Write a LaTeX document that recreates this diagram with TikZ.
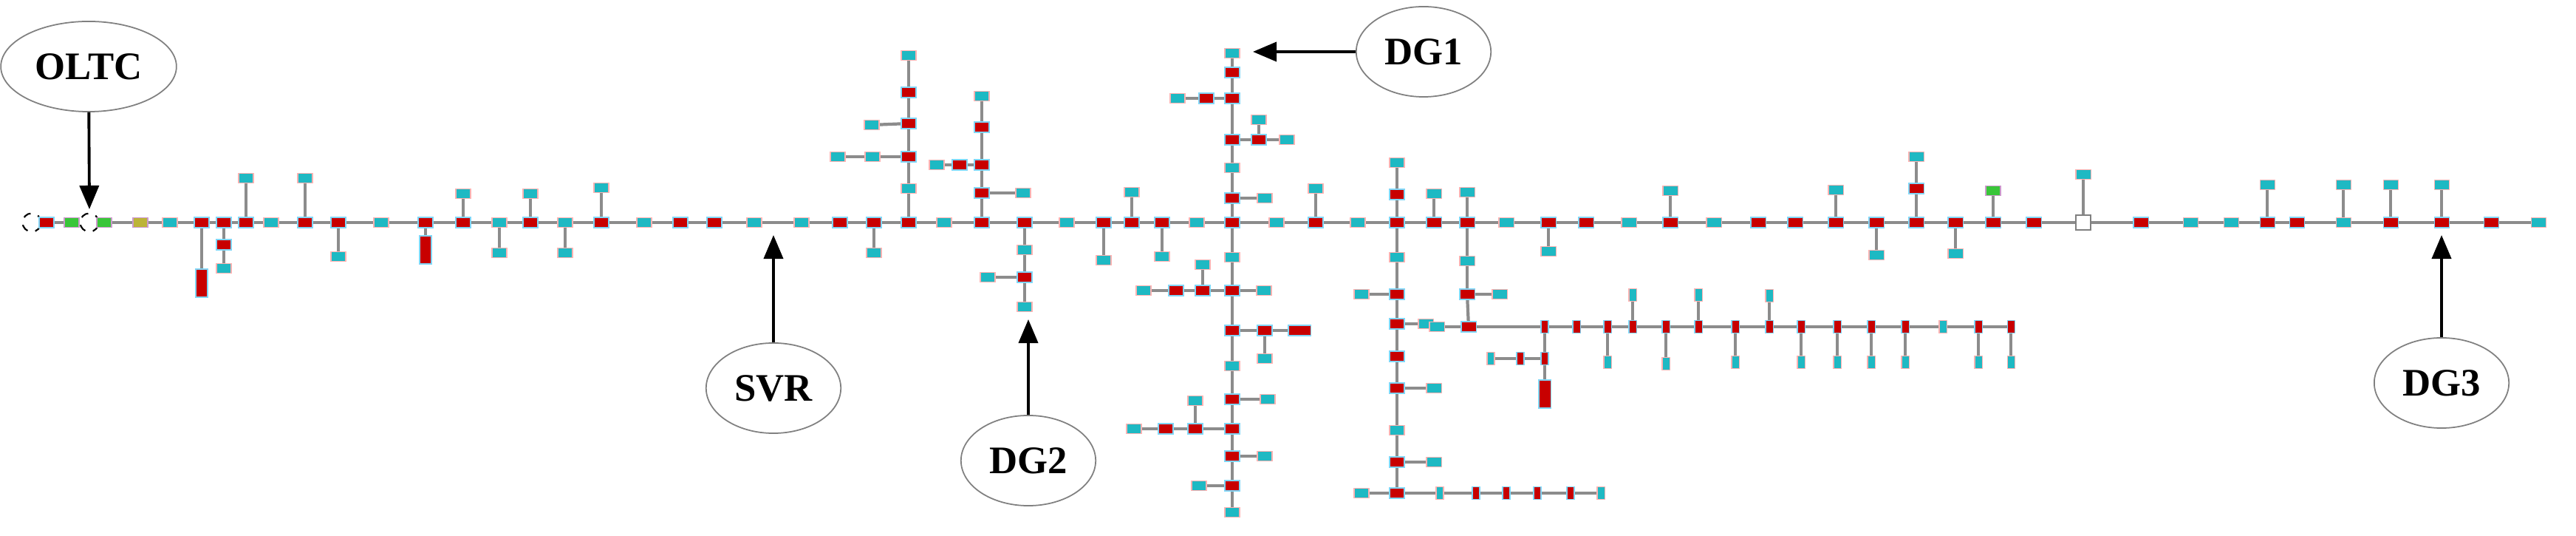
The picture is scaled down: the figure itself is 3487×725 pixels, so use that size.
\documentclass[tikz,border=0pt]{standalone}
\usepackage{fontspec}
\setmainfont{Liberation Serif}
\usetikzlibrary{arrows.meta,shapes.geometric}
\pgfdeclarelayer{bg}
\pgfsetlayers{bg,main}
\definecolor{busred}{RGB}{200,0,0}
\definecolor{loadcyan}{RGB}{30,185,195}
\definecolor{feedgray}{RGB}{140,140,140}
\tikzset{
  bus/.style={draw=cyan!50, line width=0.3pt, fill=busred, minimum width=0.2cm, minimum height=0.14cm, inner sep=0pt},
  busv/.style={bus, minimum width=0.1cm, minimum height=0.17cm},
  bust/.style={bus, minimum width=0.16cm, minimum height=0.38cm},
  busw/.style={bus, minimum width=0.3cm},
  load/.style={draw=red!30, line width=0.3pt, fill=loadcyan, minimum width=0.2cm, minimum height=0.13cm, inner sep=0pt},
  loadv/.style={load, minimum width=0.1cm, minimum height=0.17cm},
  grn/.style={draw=violet!40, fill=green!55!gray, minimum width=0.2cm, minimum height=0.13cm, inner sep=0pt},
  ylw/.style={draw=violet!40, fill=yellow!70!black, minimum width=0.2cm, minimum height=0.13cm, inner sep=0pt},
  wht/.style={draw=gray, fill=white, minimum size=0.2cm, inner sep=0pt},
  ring/.style={circle, draw=black, dashed, line width=0.6pt, minimum size=0.25cm, inner sep=0pt},
  ln/.style={draw=feedgray, line width=1.2pt},
  tag/.style={ellipse, draw=gray, line width=0.5pt, minimum width=1.75cm, minimum height=1.22cm, font=\fontsize{15}{17}\selectfont\bfseries},
  pointer/.style={-{Triangle[length=0.32cm,width=0.26cm]}, line width=1.1pt}
}
% branch node: parent, name, x, y, style
\newcommand\bn[5]{\node[#5] (#2) at (#3,#4) {};
  \begin{pgfonlayer}{bg}\draw[ln] (#1) -- (#2);\end{pgfonlayer}}
\begin{document}
\begin{tikzpicture}[x=0.01cm, y=-0.01cm]
  \useasboundingbox (0,0) rectangle (3487,725);

  % main feeder
  \node[ring] (m43) at (43,301) {};
  \foreach \x/\s [remember=\x as \lx (initially 43)] in {63/bus, 97/grn, 121/ring, 141/grn, 190/ylw, 230/load, 273/bus, 303/bus, 333/bus, 367/load, 413/bus, 458/bus, 516/load, 576/bus, 627/bus, 676/load, 718/bus, 765/load, 814/bus, 872/load, 921/bus, 967/bus, 1021/load, 1085/load, 1137/bus, 1183/bus, 1230/bus, 1278/load, 1329/bus, 1387/bus, 1444/load, 1494/bus, 1532/bus, 1573/bus, 1620/load, 1668/bus, 1728/load, 1781/bus, 1838/load, 1891/bus, 1941/bus, 1986/bus, 2039/load, 2096/bus, 2147/bus, 2205/load, 2261/bus, 2320/load, 2380/bus, 2430/bus, 2485/bus, 2540/bus, 2594/bus, 2647/bus, 2698/bus, 2753/bus, 2820/wht, 2898/bus, 2965/load, 3020/load, 3069/bus, 3109/bus, 3172/load, 3236/bus, 3305/bus, 3372/bus, 3436/load} {
    \node[\s] (m\x) at (\x,301) {};
    \begin{pgfonlayer}{bg}\draw[ln] (m\lx) -- (m\x);\end{pgfonlayer}
  }

  % short laterals (parent x / y / style)
  \foreach \x/\y/\s in {273/383/bust, 333/241/load, 413/241/load, 458/347/load, 576/338/bust, 627/262/load, 676/342/load, 718/262/load, 765/342/load, 814/254/load, 1183/342/load, 1494/352/load, 1532/260/load, 1573/347/load, 1781/255/load, 1941/262/load, 1986/260/load, 2096/340/load, 2261/258/load, 2485/257/load, 2540/345/load, 2647/343/load, 2698/258/grn, 2820/236/load, 3069/250/load, 3172/250/load, 3236/250/load, 3305/250/load} {
    \bn{m\x}{l\x}{\x}{\y}{\s}
  }
  \bn{m303}{p1}{303}{331}{bus} \bn{p1}{p2}{303}{363}{load}
  \bn{m1891}{q1}{1891}{263}{bus} \bn{q1}{q2}{1891}{220}{load}
  \bn{m2594}{s1}{2594}{255}{bus} \bn{s1}{s2}{2594}{212}{load}

  % lateral up from 1230
  \bn{m1230}{a1}{1230}{255}{load} \bn{a1}{a2}{1230}{212}{bus}
  \bn{a2}{a21}{1181}{212}{load} \bn{a21}{a22}{1134}{212}{load}
  \bn{a2}{a3}{1230}{167}{bus} \bn{a3}{a31}{1180}{169}{load}
  \bn{a3}{a4}{1230}{125}{bus} \bn{a4}{a5}{1230}{75}{load}
  % lateral up from 1329
  \bn{m1329}{b1}{1329}{261}{bus} \bn{b1}{b11}{1385}{261}{load}
  \bn{b1}{b2}{1329}{223}{bus} \bn{b2}{b21}{1299}{223}{bus} \bn{b21}{b22}{1268}{223}{load}
  \bn{b2}{b3}{1329}{172}{bus} \bn{b3}{b4}{1329}{130}{load}
  % lateral down from 1387
  \bn{m1387}{d1}{1387}{338}{load} \bn{d1}{d2}{1387}{375}{bus}
  \bn{d2}{d21}{1337}{375}{load} \bn{d2}{d3}{1387}{415}{load}

  % lateral up from 1668
  \bn{m1668}{u1}{1668}{268}{bus} \bn{u1}{u11}{1712}{268}{load}
  \bn{u1}{u2}{1668}{227}{load} \bn{u2}{u3}{1668}{189}{bus}
  \bn{u3}{u31}{1704}{189}{bus} \bn{u31}{u32}{1704}{162}{load} \bn{u31}{u33}{1742}{189}{load}
  \bn{u3}{u4}{1668}{133}{bus} \bn{u4}{u41}{1633}{133}{bus} \bn{u41}{u42}{1594}{133}{load}
  \bn{u4}{u5}{1668}{98}{bus} \bn{u5}{u6}{1668}{72}{load}
  % lateral down from 1668
  \bn{m1668}{v1}{1668}{348}{load} \bn{v1}{v2}{1668}{393}{bus}
  \bn{v2}{v21}{1711}{393}{load} \bn{v2}{v22}{1628}{393}{bus} \bn{v22}{v23}{1628}{358}{load}
  \bn{v22}{v24}{1592}{393}{bus} \bn{v24}{v25}{1548}{393}{load}
  \bn{v2}{v3}{1668}{447}{bus} \bn{v3}{v31}{1712}{447}{bus} \bn{v31}{v32}{1712}{485}{load}
  \bn{v31}{v33}{1759}{447}{busw}
  \bn{v3}{v4}{1668}{495}{load} \bn{v4}{v5}{1668}{540}{bus} \bn{v5}{v51}{1716}{540}{load}
  \bn{v5}{v6}{1668}{580}{bus} \bn{v6}{v61}{1618}{580}{bus} \bn{v61}{v62}{1618}{542}{load}
  \bn{v61}{v63}{1578}{580}{bus} \bn{v63}{v64}{1535}{580}{load}
  \bn{v6}{v7}{1668}{617}{bus} \bn{v7}{v71}{1712}{617}{load}
  \bn{v7}{v8}{1668}{657}{bus} \bn{v8}{v81}{1623}{657}{load}
  \bn{v8}{v9}{1668}{693}{load}

  % lateral down from 1891
  \bn{m1891}{w1}{1891}{348}{load} \bn{w1}{w2}{1891}{398}{bus} \bn{w2}{w21}{1843}{398}{load}
  \bn{w2}{w3}{1891}{438}{bus} \bn{w3}{w31}{1930}{438}{load}
  \bn{w3}{w4}{1891}{482}{bus} \bn{w4}{w5}{1891}{525}{bus} \bn{w5}{w51}{1941}{525}{load}
  \bn{w5}{w6}{1891}{582}{load} \bn{w6}{w7}{1891}{625}{bus} \bn{w7}{w71}{1941}{625}{load}
  \bn{w7}{w8}{1891}{667}{bus} \bn{w8}{w81}{1843}{667}{load}
  \foreach \x/\s [remember=\x as \lx (initially 1891)] in {1949/loadv, 1998/busv, 2039/busv, 2081/busv, 2126/busv, 2167/loadv} {
    \ifnum\lx=1891 \bn{w8}{e\x}{\x}{667}{\s} \else \bn{e\lx}{e\x}{\x}{667}{\s} \fi
  }

  % lateral down from 1986
  \bn{m1986}{x1}{1986}{353}{load} \bn{x1}{x2}{1986}{398}{bus} \bn{x2}{x21}{2030}{398}{load}
  \bn{x2}{x3}{1988}{442}{bus} \bn{x3}{x31}{1945}{442}{load}
  \foreach \x/\s [remember=\x as \lx (initially 1988)] in {2091/busv, 2134/busv, 2176/busv, 2210/busv, 2255/busv, 2299/busv, 2349/busv, 2395/busv, 2438/busv, 2487/busv, 2533/busv, 2579/busv, 2630/loadv, 2678/busv, 2722/busv} {
    \ifnum\lx=1988 \bn{x3}{h\x}{\x}{442}{\s} \else \bn{h\lx}{h\x}{\x}{442}{\s} \fi
  }
  \foreach \x/\y in {2176/490, 2210/399, 2255/492, 2299/399, 2349/490, 2395/400, 2438/490, 2487/490, 2533/490, 2579/490, 2678/490, 2722/490} {
    \bn{h\x}{k\x}{\x}{\y}{loadv}
  }
  \bn{h2091}{f1}{2091}{485}{busv} \bn{f1}{f2}{2058}{485}{busv} \bn{f2}{f3}{2018}{485}{loadv}
  \bn{f1}{f4}{2091}{533}{bust}

  % device labels
  \node[tag] (oltc) at (120,90) {OLTC};
  \node[tag] (svr) at (1047,525) {SVR};
  \node[tag] (dg2) at (1392,623) {DG2};
  \node[tag] (dg1) at (1927,70) {DG1};
  \node[tag] (dg3) at (3305,518) {DG3};
  \coordinate (toltc) at (121,283);
  \coordinate (tsvr) at (1047,318);
  \coordinate (tdg2) at (1392,432);
  \coordinate (tdg1) at (1696,70);
  \coordinate (tdg3) at (3305,318);
  \draw[pointer] (oltc) -- (toltc);
  \draw[pointer] (svr) -- (tsvr);
  \draw[pointer] (dg2) -- (tdg2);
  \draw[pointer] (dg1) -- (tdg1);
  \draw[pointer] (dg3) -- (tdg3);
\end{tikzpicture}
\end{document}
